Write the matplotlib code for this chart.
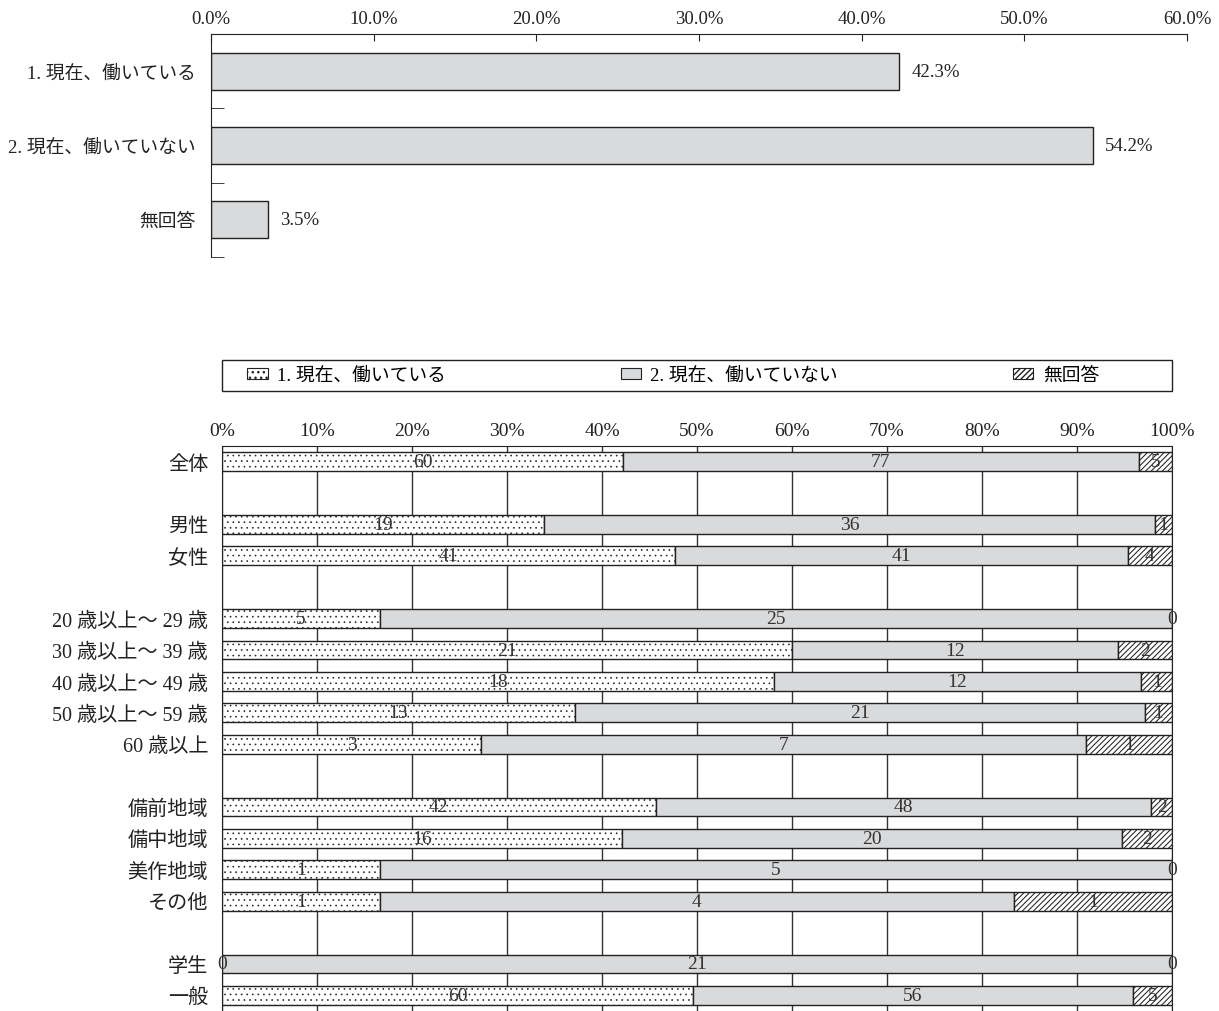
import matplotlib
matplotlib.use('Agg')
import matplotlib.pyplot as plt
import numpy as np
from matplotlib.patches import Patch, Rectangle

plt.rcParams['font.family'] = ['Liberation Serif', 'Noto Sans CJK JP']

GREY = '#d9dadc'
EDGE = '#222222'

# 上段 : 就労状況 (全体)
top_labels = ['1. 現在、働いている', '2. 現在、働いていない', '無回答']
top_pct = [42.3, 54.2, 3.5]
top_ticks = [0, 10, 20, 30, 40, 50, 60]

# 下段 : 属性別 (人数)
groups = ['全体', '男性', '女性',
          '20 歳以上～ 29 歳', '30 歳以上～ 39 歳', '40 歳以上～ 49 歳',
          '50 歳以上～ 59 歳', '60 歳以上',
          '備前地域', '備中地域', '美作地域', 'その他',
          '学生', '一般']
group_sizes = [1, 2, 5, 4, 2]
working = [60, 19, 41, 5, 21, 18, 13, 3, 42, 16, 1, 1, 0, 60]
not_working = [77, 36, 41, 25, 12, 12, 21, 7, 48, 20, 5, 4, 21, 56]
no_answer = [5, 1, 4, 0, 2, 1, 1, 1, 2, 2, 0, 1, 0, 5]
legend_labels = ['1. 現在、働いている', '2. 現在、働いていない', '無回答']
series_style = [dict(color='white', hatch='...', hlw=0.45),
                dict(color=GREY, hatch=None, hlw=0.8),
                dict(color='white', hatch='//////', hlw=0.75)]

fig = plt.figure(figsize=(12.19, 10.12), dpi=100)

# ---- 上段グラフ ----
ax1 = fig.add_axes([211/1219, 1 - 258/1012, 976/1219, 223/1012])
y1 = np.arange(len(top_labels))
ax1.barh(y1, top_pct, height=0.5, color=GREY, edgecolor=EDGE, linewidth=1)
for y, v in zip(y1, top_pct):
    ax1.text(v + 0.75, y, f'{v:.1f}%', va='center', ha='left', fontsize=13.5, color='#222')
ax1.set_xlim(0, 60)
ax1.set_ylim(2.5, -0.5)
ax1.xaxis.tick_top()
ax1.set_xticks(top_ticks)
ax1.set_xticklabels([f'{t:.1f}%' for t in top_ticks], fontsize=13.5, color='#222')
ax1.tick_params(axis='x', direction='in', length=5, pad=5, color=EDGE)
ax1.set_yticks(y1)
ax1.set_yticklabels(top_labels, fontsize=13.5, color='#222')
ax1.set_yticks([0.5, 1.5, 2.5], minor=True)
ax1.tick_params(axis='y', which='major', length=0, pad=11)
ax1.tick_params(axis='y', which='minor', direction='in', length=9, color=EDGE)
for s in ['right', 'bottom']:
    ax1.spines[s].set_visible(False)
for s in ['left', 'top']:
    ax1.spines[s].set_color(EDGE)

# ---- 下段グラフ ----
pos = []
slot = 0
for n in group_sizes:
    pos.extend(range(slot, slot + n))
    slot += n + 1
pos = np.array(pos)

vals = np.array([working, not_working, no_answer], dtype=float)
totals = vals.sum(axis=0)
pct = vals / totals * 100

ax2 = fig.add_axes([222/1219, 0, 950/1219, 1 - 447/1012])
left = np.zeros(len(groups))
for i in range(3):
    st = series_style[i]
    with plt.rc_context({'hatch.linewidth': st['hlw']}):
        ax2.barh(pos, pct[i], left=left, height=0.6, color=st['color'],
                 edgecolor=EDGE, linewidth=1, hatch=st['hatch'], zorder=2)
    for p, l, w, n in zip(pos, left, pct[i], vals[i]):
        ax2.text(l + w / 2, p, f'{int(n)}', ha='center', va='center',
                 fontsize=14, color='#333', zorder=3)
    left = left + pct[i]

ax2.set_xlim(0, 100)
ax2.set_ylim(slot - 1.5, -0.5)
ax2.xaxis.tick_top()
ax2.set_xticks(np.arange(0, 101, 10))
ax2.set_xticklabels([f'{t}%' for t in range(0, 101, 10)], fontsize=14, color='#222')
ax2.tick_params(axis='x', length=0, pad=5)
ax2.set_yticks(pos)
ax2.set_yticklabels(groups, fontsize=14.5, color='#222')
ax2.tick_params(axis='y', length=0, pad=10)
ax2.set_axisbelow(True)
ax2.xaxis.grid(True, color='#333', linewidth=1)
ax2.spines['bottom'].set_visible(False)
for s in ['left', 'top', 'right']:
    ax2.spines[s].set_color(EDGE)

# 凡例 (枠は別に描く)
fig.patches.append(Rectangle((222/1219, 1 - 392/1012), 950/1219, 31/1012,
                             transform=fig.transFigure, facecolor='white',
                             edgecolor=EDGE, linewidth=1))
handles = []
for st in series_style:
    with plt.rc_context({'hatch.linewidth': st['hlw']}):
        handles.append(Patch(facecolor=st['color'], edgecolor=EDGE,
                             hatch=st['hatch'], linewidth=0.8))
fig.legend(handles, legend_labels, ncol=3, mode='expand',
           bbox_to_anchor=(247/1219, 1 - 392/1012, 852/1219, 31/1012),
           loc='center', frameon=False, fontsize=13.5, handlelength=1.1,
           handleheight=0.6, handletextpad=0.5, borderaxespad=0, borderpad=0)

fig.savefig('out.png', dpi=100)
